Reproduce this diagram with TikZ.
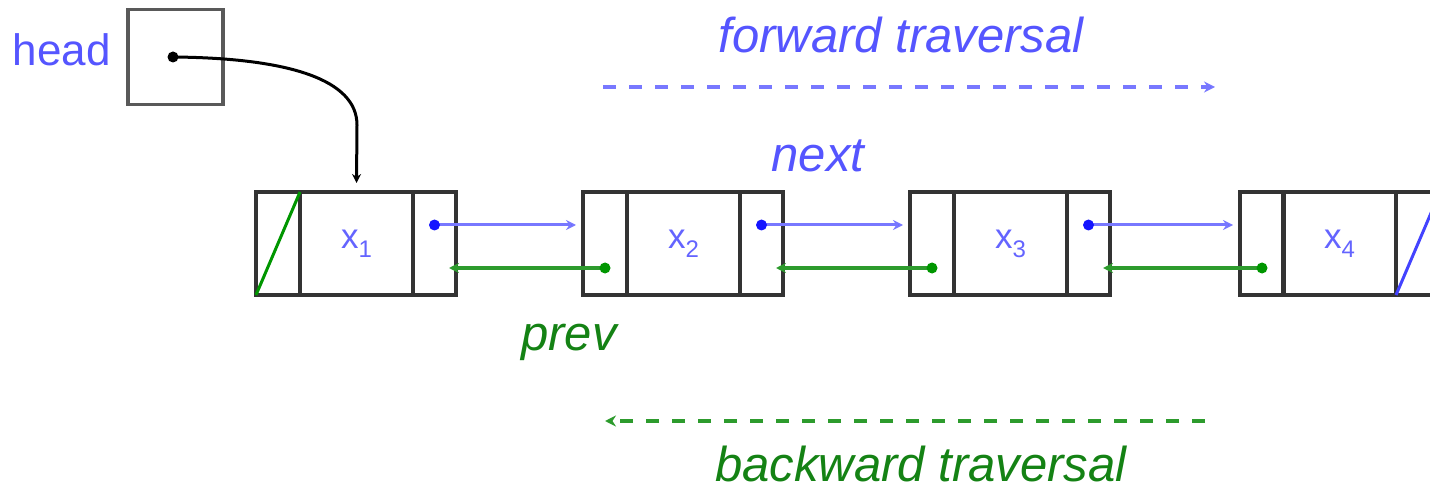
\documentclass[tikz,border=0pt]{standalone}
\usepackage{fontspec}
\setmainfont{Liberation Sans}
\usetikzlibrary{arrows.meta,calc}
\definecolor{bl}{RGB}{85,85,255}
\definecolor{blline}{RGB}{120,120,255}
\definecolor{bldot}{RGB}{20,20,255}
\definecolor{gr}{RGB}{20,130,20}
\definecolor{grline}{RGB}{45,155,45}
\definecolor{grdot}{RGB}{0,150,0}
\definecolor{xc}{RGB}{100,100,255}
\begin{document}
\begin{tikzpicture}[x=1pt,y=-1pt,
  cell/.style={draw=black!80, line width=3.5pt, minimum height=103pt, inner sep=0pt, anchor=north west, outer sep=0pt},
  lcell/.style={cell, minimum width=44pt},
  mcell/.style={cell, minimum width=113pt, text=xc, font=\fontsize{35}{38}\selectfont},
  rcell/.style={cell, minimum width=43pt},
  lbl/.style={inner sep=0pt, anchor=base, font=\itshape\fontsize{49}{52}\selectfont},
  nextarr/.style={draw=blline, line width=3pt, -{Stealth[length=10pt,width=10pt,fill=bldot]}, shorten >=7pt},
  prevarr/.style={draw=grline, line width=3.5pt, -{Stealth[length=10pt,width=10pt,fill=grdot]}, shorten >=-7pt},
  bdot/.style={circle, fill=bldot, inner sep=0pt, minimum size=11pt},
  gdot/.style={circle, fill=grdot, inner sep=0pt, minimum size=11pt},
  trav/.style={line width=3.5pt, dash pattern=on 13pt off 13pt}
]
\useasboundingbox (0,0) rectangle (1430,489);
\clip (0,0) rectangle (1430,489);

% head
\node[draw=black!65, line width=3.5pt, minimum width=95pt, minimum height=95pt, inner sep=0pt, anchor=north west] (hb) at (126,8) {};
\node[inner sep=0pt, anchor=base east, text=bl, font=\fontsize{44}{48}\selectfont] (hl) at (111,66) {head};

% list nodes
\node[lcell] (n1l) at (256,192) {};
\node[mcell] (n1m) at (300,192) {x\raisebox{-9pt}{\fontsize{24}{26}\selectfont 1}};
\node[rcell] (n1r) at (413,192) {};

\node[lcell] (n2l) at (583,192) {};
\node[mcell] (n2m) at (627,192) {x\raisebox{-9pt}{\fontsize{24}{26}\selectfont 2}};
\node[rcell] (n2r) at (740,192) {};

\node[lcell] (n3l) at (910,192) {};
\node[mcell] (n3m) at (954,192) {x\raisebox{-9pt}{\fontsize{24}{26}\selectfont 3}};
\node[rcell] (n3r) at (1067,192) {};

\node[lcell] (n4l) at (1240,192) {};
\node[mcell] (n4m) at (1283,192) {x\raisebox{-9pt}{\fontsize{24}{26}\selectfont 4}};
\node[rcell, minimum width=44pt] (n4r) at (1396,192) {};

% null markers
\draw[draw=grdot, line width=3pt] (n1l.south west) -- (n1l.north east);
\draw[draw=bldot!80, line width=3pt] (n4r.south west) -- (n4r.north east);

% head pointer
\coordinate (hdot) at (173,57);
\fill (hdot) circle (5.5pt);
\coordinate (h1) at ([yshift=9pt]n1m.north);
\draw[line width=3pt, -{Stealth[length=9pt,width=9pt]}] (hdot) .. controls (290,58) and (357,80) .. (357,125) -- (h1);

% next pointers
\foreach \a/\b in {n1r/n2l, n2r/n3l, n3r/n4l}{
  \coordinate (s) at ([yshift=18.5pt]\a.center);
  \coordinate (e) at ([yshift=18.5pt]\b.west);
  \draw[nextarr] (s) -- (e);
  \node[bdot] at (s) {};
}
% prev pointers
\foreach \a/\b in {n2l/n1r, n3l/n2r, n4l/n3r}{
  \coordinate (s) at ([yshift=-24.5pt]\a.center);
  \coordinate (e) at ([yshift=-24.5pt]\b.east);
  \draw[prevarr] (s) -- (e);
  \node[gdot] at (s) {};
}

% labels
\node[lbl, text=bl] (ft) at (901,53) {forward traversal};
\node[lbl, text=bl] (nx) at (818,172) {next};
\node[lbl, text=gr] (pv) at (569,350) {prev};
\node[lbl, text=gr] (bt) at (921,481) {backward traversal};

% traversal arrows
\coordinate (f1) at (603,87);
\coordinate (f2) at (1215,87);
\draw[trav, draw=blline, -{Stealth[length=11pt,width=11pt,fill=bldot]}] (f1) -- (f2);
\coordinate (b1) at (1205,421);
\coordinate (b2) at (605,421);
\draw[trav, draw=grline, -{Stealth[length=11pt,width=11pt,fill=grdot]}] (b1) -- (b2);
\end{tikzpicture}
\end{document}
